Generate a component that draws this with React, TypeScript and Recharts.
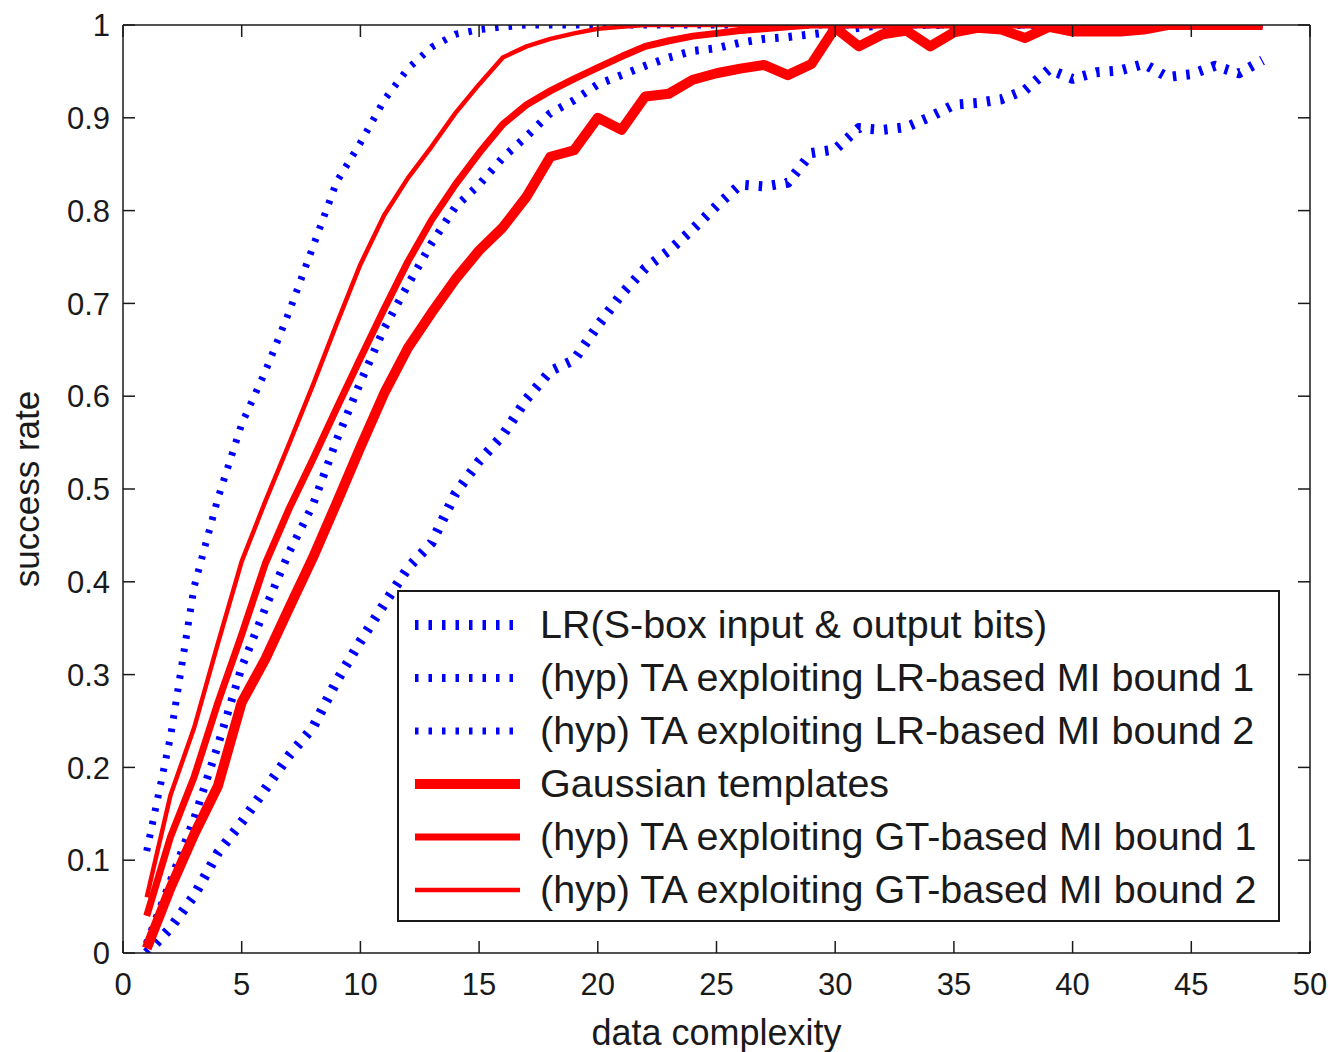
import React from 'react';
import { LineChart, Line, XAxis, YAxis, Legend } from 'recharts';

const complexity = [
  1, 2, 3, 4, 5, 6, 7, 8, 9, 10, 11, 12, 13, 14, 15, 16, 17, 18, 19, 20, 21, 22, 23, 24,
  25, 26, 27, 28, 29, 30, 31, 32, 33, 34, 35, 36, 37, 38, 39, 40, 41, 42, 43, 44, 45, 46, 47, 48,
];

const lrSbox = [
  0.0, 0.027, 0.062, 0.108, 0.141, 0.177, 0.213, 0.243, 0.293, 0.336,
  0.376, 0.415, 0.442, 0.495, 0.53, 0.558, 0.597, 0.627, 0.639, 0.676,
  0.71, 0.738, 0.757, 0.78, 0.805, 0.828, 0.826, 0.83, 0.862, 0.866,
  0.889, 0.887, 0.89, 0.901, 0.914, 0.916, 0.92, 0.93, 0.952, 0.942,
  0.949, 0.951, 0.958, 0.944, 0.947, 0.956, 0.948, 0.962,
];

const lrBound1 = [
  0.01, 0.077, 0.145, 0.224, 0.308, 0.372, 0.432, 0.483, 0.553, 0.615,
  0.673, 0.72, 0.765, 0.804, 0.828, 0.857, 0.88, 0.905, 0.919, 0.936,
  0.946, 0.956, 0.965, 0.972, 0.975, 0.981, 0.985, 0.987, 0.99, 0.993,
  0.997, 1, 1, 1, 1, 1, 1, 1, 1, 1,
  1, 1, 1, 1, 1, 1, 1, 1,
];

const lrBound2 = [
  0.11, 0.233, 0.395, 0.49, 0.57, 0.627, 0.691, 0.761, 0.831, 0.873,
  0.919, 0.953, 0.976, 0.99, 0.995, 0.998, 1, 1, 1, 1,
  1, 1, 1, 1, 1, 1, 1, 1, 1, 1,
  1, 1, 1, 1, 1, 1, 1, 1, 1, 1,
  1, 1, 1, 1, 1, 1, 1, 1,
];

const gaussTemplates = [
  0.005, 0.07, 0.128, 0.18, 0.27, 0.317, 0.372, 0.426, 0.485, 0.545,
  0.603, 0.652, 0.69, 0.726, 0.757, 0.782, 0.815, 0.858, 0.865, 0.9,
  0.887, 0.923, 0.926, 0.941, 0.948, 0.953, 0.957, 0.946, 0.958, 0.997,
  0.977, 0.99, 0.994, 0.977, 0.992, 0.997, 0.995, 0.986, 0.998, 0.993,
  0.993, 0.993, 0.995, 1, 1, 1, 1, 1,
];

const gtBound1 = [
  0.04, 0.125, 0.19, 0.27, 0.343, 0.42, 0.479, 0.532, 0.587, 0.641,
  0.694, 0.745, 0.79, 0.828, 0.862, 0.893, 0.914, 0.929, 0.942, 0.954,
  0.966, 0.977, 0.983, 0.988, 0.991, 0.994, 0.996, 0.998, 1, 1,
  1, 1, 1, 1, 1, 1, 1, 1, 1, 1,
  1, 1, 1, 1, 1, 1, 1, 1,
];

const gtBound2 = [
  0.06, 0.17, 0.243, 0.334, 0.422, 0.487, 0.549, 0.612, 0.678, 0.742,
  0.795, 0.835, 0.869, 0.905, 0.936, 0.965, 0.977, 0.985, 0.991, 0.996,
  0.998, 1, 1, 1, 1, 1, 1, 1, 1, 1,
  1, 1, 1, 1, 1, 1, 1, 1, 1, 1,
  1, 1, 1, 1, 1, 1, 1, 1,
];

const xTicks = [0, 5, 10, 15, 20, 25, 30, 35, 40, 45, 50];
const yTicks = [0, 0.1, 0.2, 0.3, 0.4, 0.5, 0.6, 0.7, 0.8, 0.9, 1];

const data = complexity.map((c, i) => ({
  c,
  lrSbox: lrSbox[i],
  lrBound1: lrBound1[i],
  lrBound2: lrBound2[i],
  gauss: gaussTemplates[i],
  gtBound1: gtBound1[i],
  gtBound2: gtBound2[i],
}));

const BLUE = '#0000ff';
const RED = '#ff0000';
const INK = '#1a1a1a';
const FONT = '"Liberation Sans", Arial, Helvetica, sans-serif';

const series = [
  { key: 'lrSbox', name: 'LR(S-box input & output bits)', color: BLUE, width: 10, dash: '3.5 10' },
  { key: 'lrBound1', name: '(hyp) TA exploiting LR-based MI bound 1', color: BLUE, width: 8, dash: '3.5 10' },
  { key: 'lrBound2', name: '(hyp) TA exploiting LR-based MI bound 2', color: BLUE, width: 7, dash: '3.5 10' },
  { key: 'gauss', name: 'Gaussian templates', color: RED, width: 10, dash: undefined },
  { key: 'gtBound1', name: '(hyp) TA exploiting GT-based MI bound 1', color: RED, width: 7, dash: undefined },
  { key: 'gtBound2', name: '(hyp) TA exploiting GT-based MI bound 2', color: RED, width: 4.5, dash: undefined },
];

const TICK_LEN = 12;

// MATLAB style ticks: short lines pointing into the plot box
const BottomTick = ({ x, y, payload }: any) => (
  <g>
    <line x1={x} x2={x} y1={y} y2={y - TICK_LEN} stroke={INK} strokeWidth={1.5} />
    <text x={x} y={y + 42} textAnchor="middle" fontSize={31} fill={INK} fontFamily={FONT}>
      {payload.value}
    </text>
  </g>
);

const TopTick = ({ x, y }: any) => (
  <line x1={x} x2={x} y1={y} y2={y + TICK_LEN} stroke={INK} strokeWidth={1.5} />
);

const LeftTick = ({ x, y, payload }: any) => (
  <g>
    <line x1={x} x2={x + TICK_LEN} y1={y} y2={y} stroke={INK} strokeWidth={1.5} />
    <text x={x - 13} y={y} dy="0.36em" textAnchor="end" fontSize={31} fill={INK} fontFamily={FONT}>
      {payload.value}
    </text>
  </g>
);

const RightTick = ({ x, y }: any) => (
  <line x1={x} x2={x - TICK_LEN} y1={y} y2={y} stroke={INK} strokeWidth={1.5} />
);

const LegendBox = () => (
  <div
    style={{
      boxSizing: 'border-box',
      width: '100%',
      height: '100%',
      border: `2px solid ${INK}`,
      background: '#fff',
      paddingTop: 6,
      fontFamily: FONT,
    }}
  >
    {series.map((s) => (
      <div key={s.key} style={{ display: 'flex', alignItems: 'center', height: 53 }}>
        <svg width={105} height={20} style={{ marginLeft: 16, marginRight: 20, flex: 'none' }}>
          <line
            x1={0}
            x2={105}
            y1={10}
            y2={10}
            stroke={s.color}
            strokeWidth={s.width}
            strokeDasharray={s.dash}
          />
        </svg>
        <span style={{ fontSize: 39.5, color: INK, whiteSpace: 'nowrap', lineHeight: 1 }}>{s.name}</span>
      </div>
    ))}
  </div>
);

export default function App() {
  return (
    <div style={{ position: 'absolute', left: 0, top: 0, background: '#fff' }}>
      <LineChart
        width={1330}
        height={1052}
        data={data}
        margin={{ top: 24, right: 19, left: 0, bottom: 0 }}
        style={{ fontFamily: FONT }}
      >
        <XAxis
          xAxisId="bottom"
          dataKey="c"
          type="number"
          domain={[0, 50]}
          ticks={xTicks}
          interval={0}
          height={99}
          tickSize={0}
          tickMargin={0}
          tickLine={false}
          tick={<BottomTick />}
          axisLine={{ stroke: INK, strokeWidth: 1.5 }}
          label={{ value: 'data complexity', position: 'insideBottom', offset: 7, fontSize: 36, fill: INK }}
        />
        <XAxis
          xAxisId="top"
          orientation="top"
          dataKey="c"
          type="number"
          domain={[0, 50]}
          ticks={xTicks}
          interval={0}
          height={1}
          tickSize={0}
          tickMargin={0}
          tickLine={false}
          tick={<TopTick />}
          axisLine={{ stroke: INK, strokeWidth: 1.5 }}
        />
        <YAxis
          yAxisId="left"
          type="number"
          domain={[0, 1]}
          allowDataOverflow
          ticks={yTicks}
          interval={0}
          width={123}
          tickSize={0}
          tickMargin={0}
          tickLine={false}
          tick={<LeftTick />}
          axisLine={{ stroke: INK, strokeWidth: 1.5 }}
          label={{
            value: 'success rate',
            angle: -90,
            position: 'insideLeft',
            offset: 27,
            fontSize: 35,
            fill: INK,
            style: { textAnchor: 'middle' },
          }}
        />
        <YAxis
          yAxisId="right"
          orientation="right"
          type="number"
          domain={[0, 1]}
          allowDataOverflow
          ticks={yTicks}
          interval={0}
          width={1}
          tickSize={0}
          tickMargin={0}
          tickLine={false}
          tick={<RightTick />}
          axisLine={{ stroke: INK, strokeWidth: 1.5 }}
        />
        {series.map((s) => (
          <Line
            key={s.key}
            xAxisId="bottom"
            yAxisId="left"
            type="linear"
            dataKey={s.key}
            name={s.name}
            stroke={s.color}
            strokeWidth={s.width}
            strokeDasharray={s.dash}
            strokeLinejoin="round"
            dot={false}
            activeDot={false}
            isAnimationActive={false}
          />
        ))}
        <Legend
          layout="vertical"
          align="center"
          verticalAlign="middle"
          wrapperStyle={{ left: 397, top: 590, width: 883, height: 332 }}
          content={() => <LegendBox />}
        />
      </LineChart>
    </div>
  );
}
